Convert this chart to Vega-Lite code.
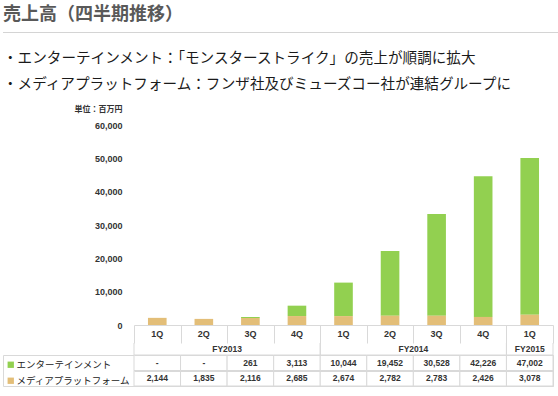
{
  "$schema": "https://vega.github.io/schema/vega-lite/v6.json",
  "padding": {"left": 2, "top": 6, "right": 0, "bottom": 0},
  "background": "white",
  "config": {"view": {"stroke": null}, "font": "Noto Sans CJK JP"},
  "datasets": {
    "main": [
      {"period": "FY2013 1Q", "q": "1Q", "series": "エンターテインメント", "value": null},
      {"period": "FY2013 2Q", "q": "2Q", "series": "エンターテインメント", "value": null},
      {"period": "FY2013 3Q", "q": "3Q", "series": "エンターテインメント", "value": 261},
      {"period": "FY2013 4Q", "q": "4Q", "series": "エンターテインメント", "value": 3113},
      {"period": "FY2014 1Q", "q": "1Q", "series": "エンターテインメント", "value": 10044},
      {"period": "FY2014 2Q", "q": "2Q", "series": "エンターテインメント", "value": 19452},
      {"period": "FY2014 3Q", "q": "3Q", "series": "エンターテインメント", "value": 30528},
      {"period": "FY2014 4Q", "q": "4Q", "series": "エンターテインメント", "value": 42226},
      {"period": "FY2015 1Q", "q": "1Q", "series": "エンターテインメント", "value": 47002},
      {"period": "FY2013 1Q", "q": "1Q", "series": "メディアプラットフォーム", "value": 2144},
      {"period": "FY2013 2Q", "q": "2Q", "series": "メディアプラットフォーム", "value": 1835},
      {"period": "FY2013 3Q", "q": "3Q", "series": "メディアプラットフォーム", "value": 2116},
      {"period": "FY2013 4Q", "q": "4Q", "series": "メディアプラットフォーム", "value": 2685},
      {"period": "FY2014 1Q", "q": "1Q", "series": "メディアプラットフォーム", "value": 2674},
      {"period": "FY2014 2Q", "q": "2Q", "series": "メディアプラットフォーム", "value": 2782},
      {"period": "FY2014 3Q", "q": "3Q", "series": "メディアプラットフォーム", "value": 2783},
      {"period": "FY2014 4Q", "q": "4Q", "series": "メディアプラットフォーム", "value": 2426},
      {"period": "FY2015 1Q", "q": "1Q", "series": "メディアプラットフォーム", "value": 3078}
    ],
    "fy": [
      {"fy": "FY2013", "first": "FY2013 1Q", "last": "FY2013 4Q", "mid": "FY2013 2Q"},
      {"fy": "FY2014", "first": "FY2014 1Q", "last": "FY2014 4Q", "mid": "FY2014 2Q"},
      {"fy": "FY2015", "first": "FY2015 1Q", "last": "FY2015 1Q", "mid": "FY2015 1Q"}
    ]
  },
  "spacing": 18,
  "vconcat": [
    {
      "width": 556,
      "height": 1,
      "view": {"stroke": null, "fill": "#d4d4d4"},
      "title": {"text": "売上高（四半期推移）", "anchor": "start", "frame": "group", "fontSize": 18, "fontWeight": "bold", "color": "#595959", "offset": 8},
      "data": {"values": []},
      "mark": "rule",
      "encoding": {}
    },
    {
      "bounds": "flush",
      "spacing": 0,
      "vconcat": [
        {
          "width": 550,
          "height": 200,
          "title": {"text": ["・エンターテインメント：「モンスターストライク」の売上が順調に拡大", "・メディアプラットフォーム：フンザ社及びミューズコー社が連結グループに"], "anchor": "start", "frame": "group", "fontSize": 14.6, "fontWeight": "normal", "lineHeight": 26, "color": "#1a1a1a", "offset": 13},
          "data": {"name": "main"},
          "mark": {"type": "bar"},
          "encoding": {
            "x": {"field": "period", "type": "nominal", "sort": null,
                  "scale": {"domain": ["FY2013 1Q","FY2013 2Q","FY2013 3Q","FY2013 4Q","FY2014 1Q","FY2014 2Q","FY2014 3Q","FY2014 4Q","FY2015 1Q"], "range": [131, 550], "paddingInner": 0.6, "paddingOuter": 0.3},
                  "axis": null},
            "y": {"field": "value", "type": "quantitative", "stack": "zero",
                  "scale": {"domain": [0, 60000], "nice": false},
                  "axis": {"values": [0, 10000, 20000, 30000, 40000, 50000, 60000], "labelExpr": "format(datum.value, ',')", "offset": -131, "domain": false, "ticks": false, "grid": false, "labelPadding": 12, "labelFontSize": 9, "labelFont": "Liberation Sans", "labelFontWeight": "bold", "labelColor": "#333",
                           "title": "単位：百万円", "titleAngle": 0, "titleAlign": "right", "titleBaseline": "middle", "titleX": -12, "titleY": -16, "titleFontSize": 8, "titleFontWeight": "bold", "titleColor": "#333"}},
            "color": {"field": "series", "type": "nominal",
                      "scale": {"domain": ["エンターテインメント", "メディアプラットフォーム"], "range": ["#92D050", "#E3BE78"]},
                      "legend": {"title": null, "orient": "none", "legendX": 3, "legendY": 328, "direction": "vertical", "symbolType": "square", "symbolSize": 40, "symbolStrokeWidth": 0, "labelFontSize": 9.5, "labelFont": "Noto Sans CJK JP", "labelColor": "#222", "rowPadding": 5, "padding": 0, "labelOffset": 1}},
            "order": {"field": "series", "sort": "descending"}
          }
        },
        {
          "width": 550,
          "height": 18,
          "data": {"name": "main"},
          "transform": [{"filter": "datum.series === 'メディアプラットフォーム'"}],
          "mark": {"type": "text", "fontSize": 9, "font": "Liberation Sans", "fontWeight": "bold", "color": "#333", "baseline": "middle"},
          "encoding": {
            "x": {"field": "period", "type": "nominal", "sort": null,
                  "scale": {"domain": ["FY2013 1Q","FY2013 2Q","FY2013 3Q","FY2013 4Q","FY2014 1Q","FY2014 2Q","FY2014 3Q","FY2014 4Q","FY2015 1Q"], "range": [131, 550], "paddingInner": 0, "paddingOuter": 0},
                  "axis": {"orient": "top", "title": null, "labels": false, "ticks": false, "domain": true, "domainColor": "#d9d9d9", "grid": true, "gridColor": "#d9d9d9", "tickBand": "extent"}},
            "text": {"field": "q"}
          }
        },
        {
          "width": 550,
          "height": 12,
          "data": {"name": "fy"},
          "layer": [
            {
              "mark": {"type": "rule", "color": "#d9d9d9"},
              "encoding": {
                "x": {"field": "first", "type": "nominal", "bandPosition": 0, "sort": null,
                      "scale": {"domain": ["FY2013 1Q","FY2013 2Q","FY2013 3Q","FY2013 4Q","FY2014 1Q","FY2014 2Q","FY2014 3Q","FY2014 4Q","FY2015 1Q"], "range": [131, 550], "paddingInner": 0, "paddingOuter": 0},
                      "axis": null}
              }
            },
            {
              "mark": {"type": "rule", "color": "#d9d9d9"},
              "encoding": {"x": {"field": "last", "type": "nominal", "bandPosition": 1, "axis": null}}
            },
            {
              "transform": [{"filter": "datum.fy !== 'FY2015'"}],
              "mark": {"type": "text", "fontSize": 8.5, "font": "Liberation Sans", "fontWeight": "bold", "color": "#333", "baseline": "middle"},
              "encoding": {"x": {"field": "mid", "type": "nominal", "bandPosition": 1, "axis": null}, "text": {"field": "fy"}}
            },
            {
              "transform": [{"filter": "datum.fy === 'FY2015'"}],
              "mark": {"type": "text", "fontSize": 8.5, "font": "Liberation Sans", "fontWeight": "bold", "color": "#333", "baseline": "middle"},
              "encoding": {"x": {"field": "mid", "type": "nominal", "bandPosition": 0.5, "axis": null}, "text": {"field": "fy"}}
            }
          ]
        },
        {
          "width": 550,
          "height": 31,
          "view": {"stroke": "#d9d9d9", "strokeWidth": 1},
          "data": {"name": "main"},
          "encoding": {
            "x": {"field": "period", "type": "nominal", "sort": null,
                  "scale": {"domain": ["FY2013 1Q","FY2013 2Q","FY2013 3Q","FY2013 4Q","FY2014 1Q","FY2014 2Q","FY2014 3Q","FY2014 4Q","FY2015 1Q"], "range": [131, 550], "paddingInner": 0, "paddingOuter": 0},
                  "axis": null},
            "y": {"field": "series", "type": "nominal", "sort": null,
                  "scale": {"domain": ["エンターテインメント", "メディアプラットフォーム"], "paddingInner": 0, "paddingOuter": 0},
                  "axis": {"grid": true, "gridColor": "#d9d9d9", "tickBand": "extent", "labels": false, "ticks": false, "domain": false, "title": null}}
          },
          "layer": [
            {"mark": {"type": "rect", "fill": "white", "stroke": "#d9d9d9", "strokeWidth": 1}},
            {"mark": {"type": "text", "fontSize": 8.5, "font": "Liberation Sans", "fontWeight": "bold", "color": "#333", "baseline": "middle"},
             "encoding": {"text": {"condition": {"test": "datum.value == null", "value": "-"}, "field": "value", "type": "quantitative", "format": ","}}}
          ]
        }
      ]
    }
  ]
}
